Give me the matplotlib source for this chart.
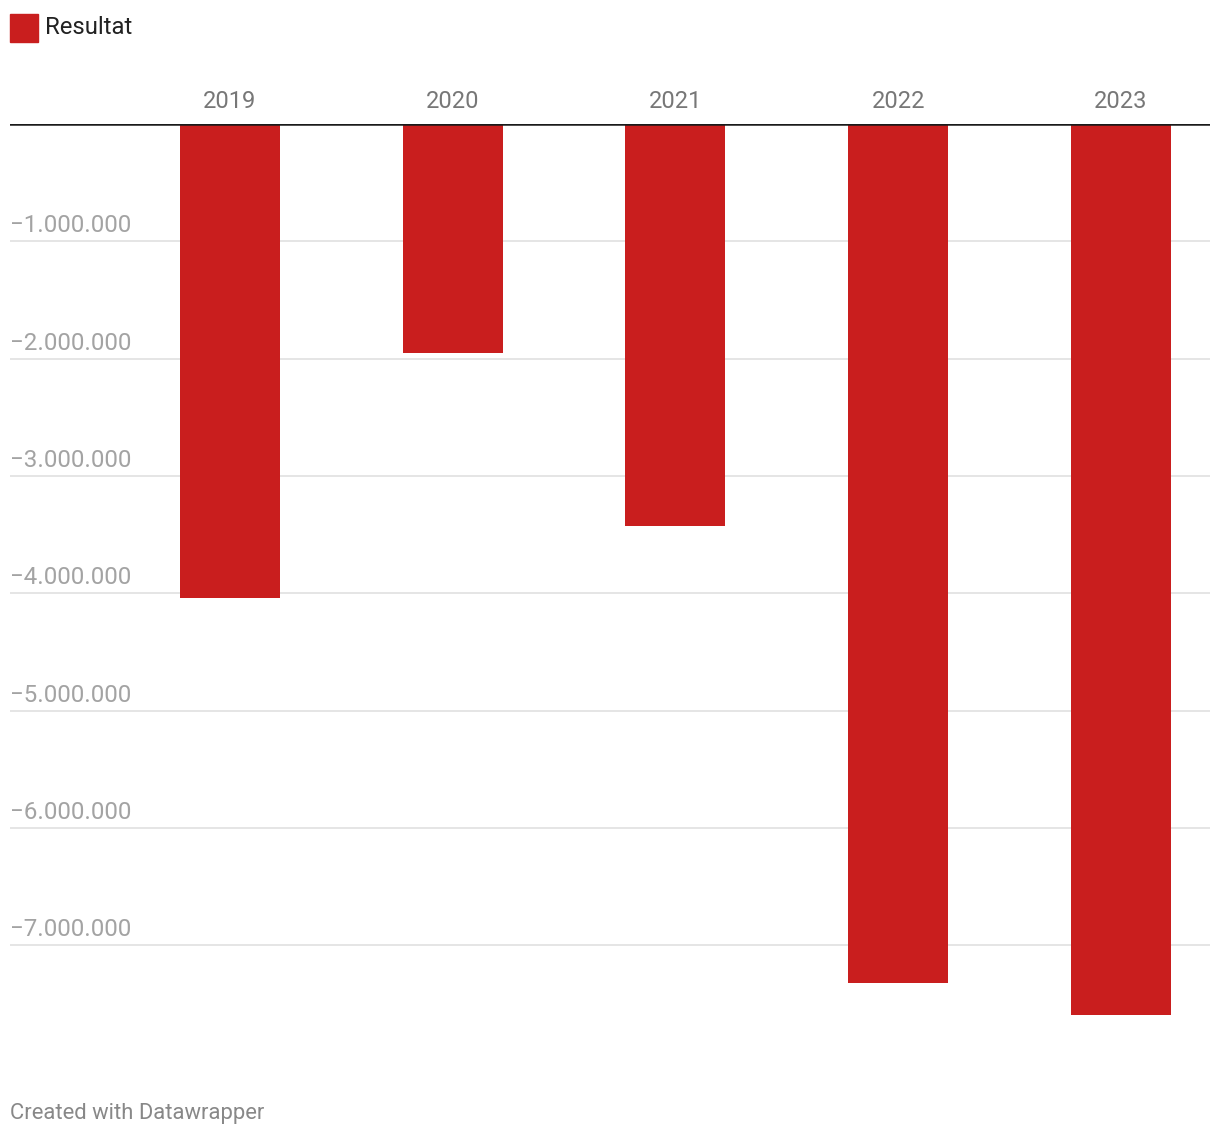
import matplotlib
matplotlib.use("Agg")
from matplotlib import pyplot as plt
import numpy as np

plt.rcParams['font.family'] = ['Roboto', 'DejaVu Sans']

years = ['2019', '2020', '2021', '2022', '2023']
resultat = [-4040000, -1955000, -3430000, -7320000, -7600000]
yticks = [-1000000, -2000000, -3000000, -4000000, -5000000, -6000000, -7000000]

W, H = 1220, 1138
fig = plt.figure(figsize=(W / 100, H / 100), dpi=100)

# axes in pixel coords: left 10, right 1210, top 124 (zero line), bottom ~1051
left, right, top = 10, 1210, 124
px_per_m = 117.3
ymin = -7.9e6
bottom = top + (-ymin / 1e6) * px_per_m
ax = fig.add_axes([left / W, 1 - bottom / H, (right - left) / W, (bottom - top) / H])

x = np.arange(len(years))
step = 222.75
ax.set_xlim(-(230 - left) / step, len(years) - 1 + (right - 1121) / step)
ax.set_ylim(ymin, 0)

for s in ax.spines.values():
    s.set_visible(False)
ax.set_xticks([])
ax.set_yticks([])

for v in yticks:
    ax.axhline(v, color='#e3e3e3', lw=1.3, zorder=0)
    lab = '\u2212' + f"{-v:,}".replace(',', '.')
    ax.annotate(lab, xy=(0, v), xycoords=('axes fraction', 'data'),
                xytext=(0, 4), textcoords='offset pixels',
                ha='left', va='bottom', fontsize=17.4, color='#a3a3a3')

ax.bar(x, resultat, width=100 / step, color='#c91e1e', zorder=2)
ax.axhline(0, color='#1a1a1a', lw=1.8, zorder=3)

for xi, yr in zip(x, years):
    ax.annotate(yr, xy=(xi, 0), xycoords='data', xytext=(0, 11),
                textcoords='offset pixels', ha='center', va='bottom',
                fontsize=17, color='#777777')

# legend
fig.patches.append(plt.Rectangle((10 / W, 1 - 42 / H), 28 / W, 28 / H,
                                 transform=fig.transFigure, color='#c91e1e'))
fig.text(45 / W, 1 - 28 / H, 'Resultat', ha='left', va='center',
         fontsize=17.2, color='#222222')

fig.text(10 / W, 1 - 1113 / H, 'Created with Datawrapper', ha='left',
         va='center', fontsize=15.8, color='#888888')

fig.savefig('out.png', dpi=100, facecolor='white')
